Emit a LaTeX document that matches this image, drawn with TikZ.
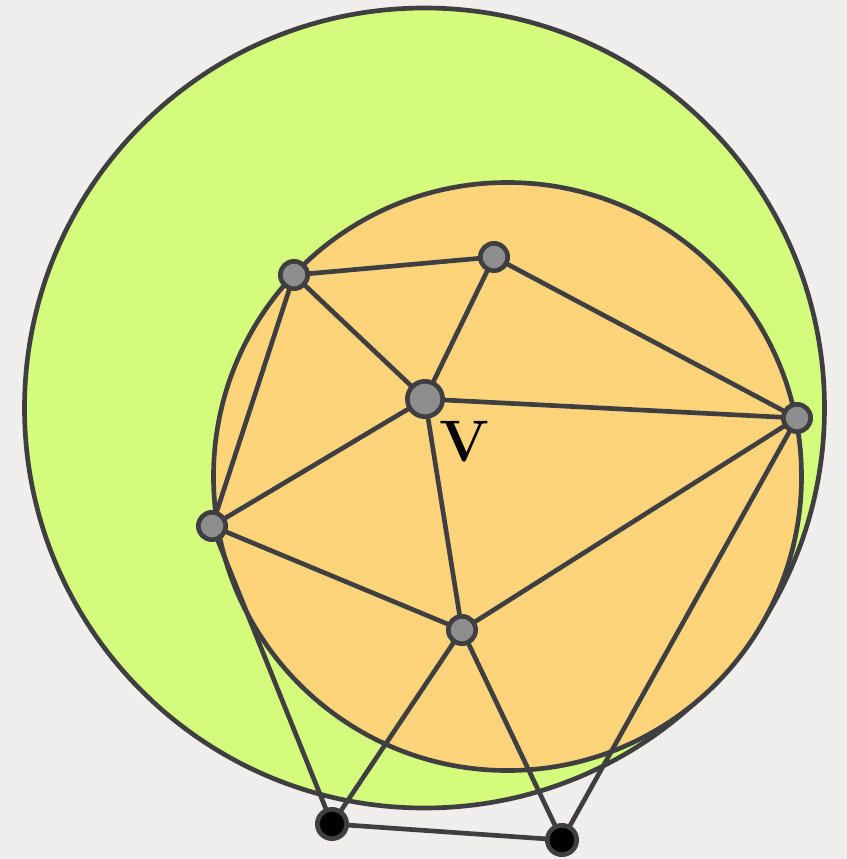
\documentclass[tikz,border=0pt]{standalone}
\definecolor{paper}{HTML}{EFEEEC}
\definecolor{outergreen}{HTML}{D4FB7B}
\definecolor{innerorange}{HTML}{FED47B}
\definecolor{edgegray}{HTML}{3F3F41}
\definecolor{vertgray}{HTML}{8E8E8E}

\begin{document}
\begin{tikzpicture}[
  x=0.03cm,
  y=-0.03cm,
  line join=round,
  line cap=round,
  disk/.style={draw=edgegray,line width=0.14cm},
  edge/.style={draw=edgegray,line width=0.14cm},
  vert/.style={circle,draw=edgegray,line width=0.14cm,fill=vertgray,inner sep=0pt,minimum size=0.82cm},
  bigvert/.style={vert,minimum size=1.06cm},
  outvert/.style={vert,fill=black,minimum size=0.88cm}
]
  % Paper background fixes the bounding box.
  \fill[paper] (0,0) rectangle (847,859);
  \useasboundingbox (0,0) rectangle (847,859);

  % The two disks.
  \draw[disk,fill=outergreen] (424.5,408) circle[radius=400];
  \draw[disk,fill=innerorange] (507.5,476.5) circle[radius=294];

  % Vertices.
  \node[vert] (a) at (294,275) {};
  \node[vert] (b) at (494,257) {};
  \node[bigvert] (v) at (425,399) {};
  \node[vert] (c) at (797,418) {};
  \node[vert] (d) at (212,526) {};
  \node[vert] (e) at (462,630) {};
  \node[outvert] (f) at (332,824) {};
  \node[outvert] (g) at (562,840) {};

  % Triangulation edges.
  \foreach \s/\t in {a/b,a/v,a/d,b/v,b/c,v/c,v/d,v/e,d/e,e/c,d/f,e/f,e/g,c/g,f/g} {
    \draw[edge] (\s) -- (\t);
  }

  \node[inner sep=0pt,font=\fontsize{50}{50}\selectfont\bfseries] (vlabel) at (464.5,442) {V};
\end{tikzpicture}
\end{document}
